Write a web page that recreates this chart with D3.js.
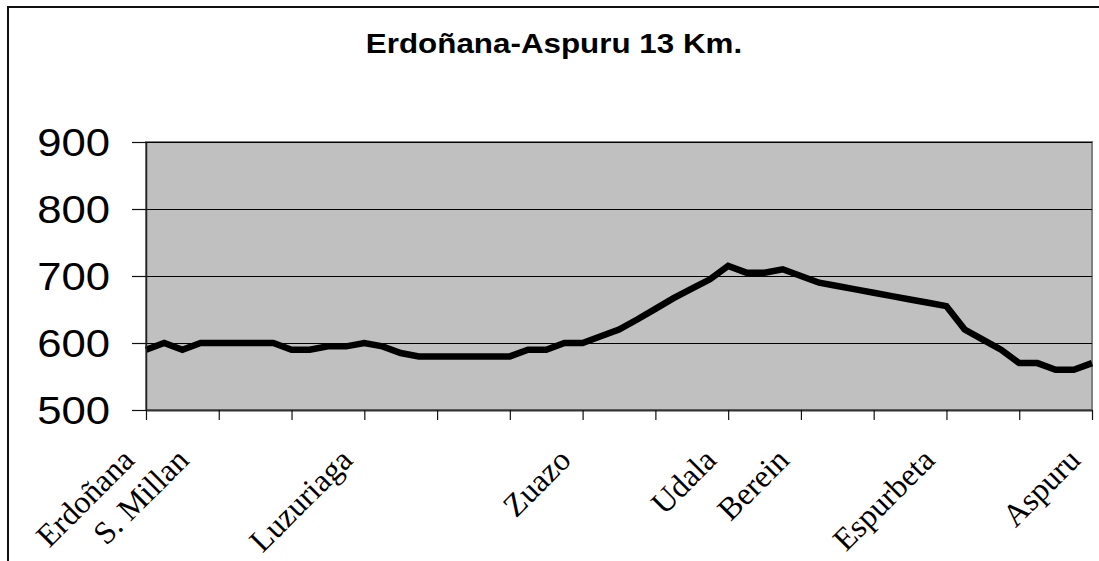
<!DOCTYPE html>
<html>
<head>
<meta charset="utf-8">
<script src="https://cdn.jsdelivr.net/npm/d3@7"></script>
<style>
  html, body { margin: 0; padding: 0; background: #ffffff; }
  svg { display: block; }
</style>
</head>
<body>
<svg id="chart" width="1099" height="561"></svg>
<script>
// ---- data ----
const title = "Erdoñana-Aspuru 13 Km.";
const elevations = [
  590, 600, 590, 600, 600, 600, 600, 600, 590, 590,
  595, 595, 600, 595, 585, 580, 580, 580, 580, 580,
  580, 590, 590, 600, 600, 610, 620, 635, 651, 667,
  681, 695, 715, 705, 705, 710, 700, 690, 685, 680,
  675, 670, 665, 660, 655, 620, 605, 590, 570, 570,
  560, 560, 570
];
const placeIndex = [0, 3, 12, 24, 32, 36, 44, 52];
const placeNames = ["Erdoñana", "S. Millan", "Luzuriaga", "Zuazo", "Udala", "Berein", "Espurbeta", "Aspuru"];
const yTicks = [500, 600, 700, 800, 900];
const categoryTickStep = 4;

// ---- layout ----
const svg = d3.select("#chart");
const W = 1099, H = 561;
const plot = { left: 146, right: 1092, top: 142, bottom: 410 };
const sx = 1.12; // horizontal stretch of text in the reference

svg.append("rect").attr("x", 0).attr("y", 0).attr("width", W).attr("height", H).attr("fill", "#fff");
// outer chart border (continues beyond the picture on right / bottom)
svg.append("rect").attr("x", 8).attr("y", 7).attr("width", W + 40).attr("height", H + 40)
  .attr("fill", "none").attr("stroke", "#111").attr("stroke-width", 2);

const x = d3.scaleLinear().domain([0, elevations.length - 1]).range([plot.left, plot.right]);
const y = d3.scaleLinear().domain([500, 900]).range([plot.bottom, plot.top]);

// plot area
svg.append("rect")
  .attr("x", plot.left).attr("y", plot.top)
  .attr("width", plot.right - plot.left).attr("height", plot.bottom - plot.top)
  .attr("fill", "#C0C0C0").attr("stroke", "#808080").attr("stroke-width", 2);

// gridlines
const grid = svg.append("g").attr("transform", `translate(${plot.left},0)`)
  .call(d3.axisLeft(y).tickValues(yTicks).tickSize(-(plot.right - plot.left)).tickFormat(""));
grid.select(".domain").remove();
grid.selectAll("line").attr("stroke", "#000").attr("stroke-width", 1);

// line
const line = d3.line().x((d, i) => x(i)).y(d => y(d));
svg.append("path").datum(elevations)
  .attr("d", line).attr("fill", "none").attr("stroke", "#000")
  .attr("stroke-width", 6.5).attr("stroke-linejoin", "miter");

// y axis
const yAxis = svg.append("g").attr("transform", `translate(${plot.left},0)`)
  .call(d3.axisLeft(y).tickValues(yTicks).tickSize(14).tickSizeOuter(0).tickFormat(""));
yAxis.select(".domain").attr("stroke", "#222").attr("stroke-width", 1.5);
yAxis.selectAll(".tick line").attr("stroke", "#111").attr("stroke-width", 1.2);

svg.append("g").selectAll("text").data(yTicks).join("text")
  .attr("transform", d => `translate(110,${y(d)}) scale(${sx},1)`)
  .attr("text-anchor", "end").attr("dy", "0.36em")
  .attr("font-family", "Liberation Sans, Arial, sans-serif").attr("font-size", 39)
  .attr("fill", "#000").text(d => d);

// x axis
const xTickVals = d3.range(0, elevations.length, categoryTickStep);
const xAxis = svg.append("g").attr("transform", `translate(0,${plot.bottom})`)
  .call(d3.axisBottom(x).tickValues(xTickVals).tickSize(10).tickSizeOuter(0).tickFormat(""));
xAxis.select(".domain").attr("stroke", "#333").attr("stroke-width", 2);
xAxis.selectAll(".tick line").attr("stroke", "#111").attr("stroke-width", 1.2);

svg.append("g").selectAll("text").data(placeIndex).join("text")
  .attr("transform", d => `translate(${x(d) - 10},462) rotate(-45)`)
  .attr("text-anchor", "end")
  .attr("font-family", "Liberation Serif, 'Times New Roman', serif").attr("font-size", 32)
  .attr("fill", "#000").text((d, i) => placeNames[i]);

// title
svg.append("text")
  .attr("transform", `translate(554,53) scale(${sx},1)`)
  .attr("text-anchor", "middle")
  .attr("font-family", "Liberation Sans, Arial, sans-serif").attr("font-weight", "bold")
  .attr("font-size", 28).attr("fill", "#000").text(title);
</script>
</body>
</html>
